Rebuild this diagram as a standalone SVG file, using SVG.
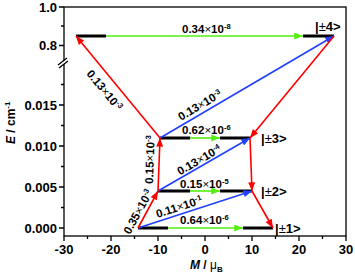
<svg xmlns="http://www.w3.org/2000/svg" width="355" height="274" viewBox="0 0 355 274">
<style>
text{font-family:"Liberation Sans",Arial,sans-serif;font-weight:bold;fill:#000}
.tk{font-size:13px}
.ttl{font-size:12px}
.rate{font-size:11.5px}
.st{font-size:7.5px}
.lab{font-size:13px}
.nw{font-weight:normal}
.lvl{stroke:#000;stroke-width:3;fill:none}
.ax{stroke:#000;stroke-width:1.3;fill:none}
.red{stroke:#ff0000;stroke-width:1.6;fill:none;marker-end:url(#mr)}
.blue{stroke:#2040ff;stroke-width:1.6;fill:none;marker-end:url(#mb)}
.green{stroke:#55ee11;stroke-width:1.6;fill:none;marker-end:url(#mg)}
</style>
<defs>
<marker id="mr" viewBox="0 0 10 8" refX="10" refY="4" markerWidth="9" markerHeight="7" markerUnits="userSpaceOnUse" orient="auto"><path d="M0,0L10,4L0,8z" fill="#ff0000"/></marker>
<marker id="mb" viewBox="0 0 10 8" refX="10" refY="4" markerWidth="9" markerHeight="7" markerUnits="userSpaceOnUse" orient="auto"><path d="M0,0L10,4L0,8z" fill="#2040ff"/></marker>
<marker id="mg" viewBox="0 0 10 8" refX="10" refY="4" markerWidth="9" markerHeight="7" markerUnits="userSpaceOnUse" orient="auto"><path d="M0,0L10,4L0,8z" fill="#55ee11"/></marker>
</defs>
<rect width="355" height="274" fill="#fff"/>
<g id="axes">
<rect class="ax" x="64" y="7" width="282" height="229"/>
<path class="ax" d="M64,236v5M111,236v5M158,236v5M205,236v5M252,236v5M299,236v5M346,236v5M87.5,236v3M134.5,236v3M181.5,236v3M228.5,236v3M275.5,236v3M322.5,236v3"/>
<path class="ax" d="M64,228h-5M64,187h-5M64,146h-5M64,105h-5M64,45.5h-5M64,7h-5M64,207.5h-3M64,166.5h-3M64,125.5h-3M64,84.5h-3M64,26h-3"/>
<polygon points="58,65 67,58 68,61 59,68" fill="#fff"/>
<path class="ax" d="M58,65L67,58M59,68L68,61"/>
<g class="tk" text-anchor="middle">
<text x="64" y="253.5">-30</text><text x="111" y="253.5">-20</text><text x="158" y="253.5">-10</text><text x="205" y="253.5">0</text><text x="252" y="253.5">10</text><text x="299" y="253.5">20</text><text x="346" y="253.5">30</text>
</g>
<g class="tk" text-anchor="end">
<text x="57" y="232.5">0.000</text><text x="57" y="191.5">0.005</text><text x="57" y="150.5">0.010</text><text x="57" y="109.5">0.015</text><text x="57" y="50">0.8</text><text x="57" y="11.5">1.0</text>
</g>
<text class="ttl" x="190" y="268.5"><tspan font-style="italic">M</tspan> / <tspan class="nw">μ</tspan><tspan font-size="8" dy="3">B</tspan></text>
<text class="ttl" transform="translate(15,144) rotate(-90)"><tspan font-style="italic">E</tspan> / cm<tspan font-size="8" dy="-5">-1</tspan></text>
</g>
<g id="level4">
<path class="lvl" d="M76,36H106M303,36H334"/>
<text class="lab" x="315" y="31">|<tspan class="nw">±</tspan>4&gt;</text>
</g>
<g id="level3">
<path class="lvl" d="M160,138H190M220,138H250"/>
<text class="lab" x="261" y="143">|<tspan class="nw">±</tspan>3&gt;</text>
</g>
<g id="level2">
<path class="lvl" d="M158,191H190M220,191H252"/>
<text class="lab" x="261" y="196">|<tspan class="nw">±</tspan>2&gt;</text>
</g>
<g id="level1">
<path class="lvl" d="M138,228H168M243,228H273"/>
<text class="lab" x="275" y="233">|<tspan class="nw">±</tspan>1&gt;</text>
</g>
<g id="connectors">
<line class="green" x1="106" y1="36" x2="303" y2="36"/>
<line class="green" x1="190" y1="138" x2="220" y2="138"/>
<line class="green" x1="190" y1="191" x2="220" y2="191"/>
<line class="green" x1="168" y1="228" x2="243" y2="228"/>
<line class="blue" x1="160" y1="138" x2="334" y2="36"/>
<line class="blue" x1="158" y1="191" x2="250" y2="138"/>
<line class="blue" x1="138" y1="228" x2="252" y2="191"/>
<line class="red" x1="160" y1="138" x2="76" y2="36"/>
<line class="red" x1="334" y1="36" x2="250" y2="138"/>
<line class="red" x1="250" y1="138" x2="252" y2="191"/>
<line class="red" x1="252" y1="191" x2="273" y2="228"/>
<line class="red" x1="138" y1="228" x2="158" y2="191"/>
<line class="red" x1="158" y1="191" x2="160" y2="138"/>
<g class="rate">
<text x="182" y="33">0.34<tspan class="nw">×</tspan>10<tspan class="st" dy="-4">-8</tspan></text>
<text x="182" y="134">0.62<tspan class="nw">×</tspan>10<tspan class="st" dy="-4">-6</tspan></text>
<text x="180" y="188">0.15<tspan class="nw">×</tspan>10<tspan class="st" dy="-4">-5</tspan></text>
<text x="180" y="224">0.64<tspan class="nw">×</tspan>10<tspan class="st" dy="-4">-6</tspan></text>
<text transform="translate(181,121) rotate(-30.7)">0.13<tspan class="nw">×</tspan>10<tspan class="st" dy="-4">-3</tspan></text>
<text transform="translate(180,175.5) rotate(-29.9)">0.13<tspan class="nw">×</tspan>10<tspan class="st" dy="-4">-4</tspan></text>
<text transform="translate(157.5,218) rotate(-18)">0.11<tspan class="nw">×</tspan>10<tspan class="st" dy="-4">-1</tspan></text>
<text transform="translate(86,74) rotate(50.5)">0.13<tspan class="nw">×</tspan>10<tspan class="st" dy="-4">-3</tspan></text>
<text transform="translate(130,235) rotate(-61.6)">0.35<tspan class="nw">×</tspan>10<tspan class="st" dy="-4">-3</tspan></text>
<text transform="translate(153,184) rotate(-87.8)">0.15<tspan class="nw">×</tspan>10<tspan class="st" dy="-4">-3</tspan></text>
</g>
</g>
</svg>
